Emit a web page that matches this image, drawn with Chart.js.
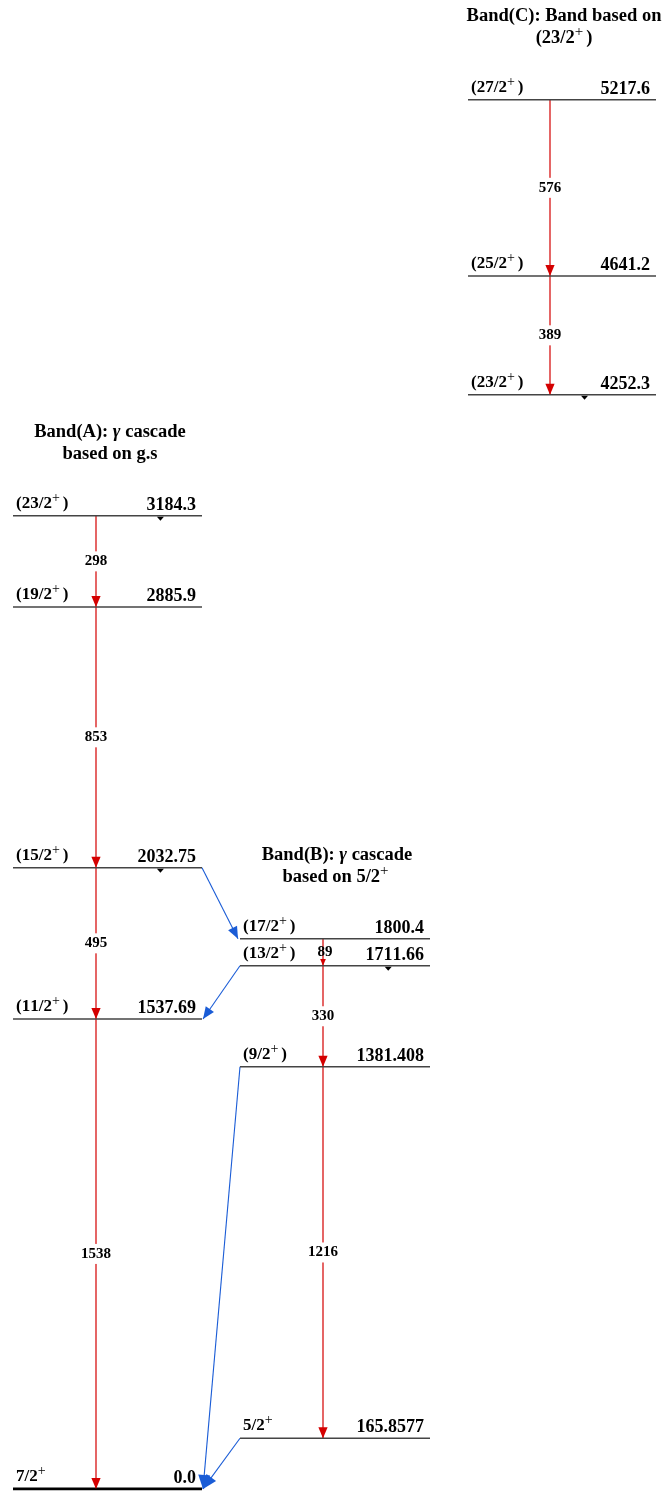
<!DOCTYPE html>
<html>
<head>
<meta charset="utf-8">
<script src="https://cdn.jsdelivr.net/npm/chart.js@4.4.1/dist/chart.umd.min.js"></script>
<style>
  html, body { margin: 0; padding: 0; background: #fff; }
  canvas { display: block; }
</style>
</head>
<body>
<canvas id="scheme" width="664" height="1495"></canvas>
<script>
// --- level data (keV) ---
const bandA_energy = [0, 1537.69, 2032.75, 2885.9, 3184.3];
const bandA_spin   = ['7/2+', '(11/2+)', '(15/2+)', '(19/2+)', '(23/2+)'];
const bandA_text   = ['0.0', '1537.69', '2032.75', '2885.9', '3184.3'];

const bandB_energy = [165.8577, 1381.408, 1711.66, 1800.4];
const bandB_spin   = ['5/2+', '(9/2+)', '(13/2+)', '(17/2+)'];
const bandB_text   = ['165.8577', '1381.408', '1711.66', '1800.4'];

const bandC_energy = [4252.3, 4641.2, 5217.6];
const bandC_spin   = ['(23/2+)', '(25/2+)', '(27/2+)'];
const bandC_text   = ['4252.3', '4641.2', '5217.6'];
const bandC_shift  = 672; // band C is drawn lower than its real energy

// --- in-band gamma cascades ---
const gammaA_from  = [3184.3, 2885.9, 2032.75, 1537.69];
const gammaA_to    = [2885.9, 2032.75, 1537.69, 0];
const gammaA_label = ['298', '853', '495', '1538'];

const gammaB_from  = [1800.4, 1711.66, 1381.408];
const gammaB_to    = [1711.66, 1381.408, 165.8577];
const gammaB_label = ['89', '330', '1216'];

const gammaC_from  = [5217.6, 4641.2];
const gammaC_to    = [4641.2, 4252.3];
const gammaC_label = ['576', '389'];

// --- links between band A and band B ---
const link_from     = [2032.75, 1711.66, 1381.408, 165.8577];
const link_to       = [1800.4, 1537.69, 0, 0];
const link_fromBand = ['A', 'B', 'B', 'B'];

// small marks under some levels
const mark_band   = ['A', 'A', 'B', 'C'];
const mark_energy = [3184.3, 2032.75, 1711.66, 4252.3];
const mark_pos    = [0.78, 0.78, 0.78, 0.62];

const titles = {
  A: ['Band(A): γ cascade', 'based on g.s'],
  B: ['Band(B): γ cascade', 'based on 5/2+'],
  C: ['Band(C): Band based on', '(23/2+)']
};

// layout of the three columns (x scale runs 0..664)
const bands = {
  A: { x0: 13,  x1: 202, xg: 96,  tx: 110, shift: 0, energy: bandA_energy, spin: bandA_spin, text: bandA_text },
  B: { x0: 240, x1: 430, xg: 323, tx: 337, shift: 0, energy: bandB_energy, spin: bandB_spin, text: bandB_text },
  C: { x0: 468, x1: 656, xg: 550, tx: 564, shift: bandC_shift, energy: bandC_energy, spin: bandC_spin, text: bandC_text }
};
const gammas = {
  A: { from: gammaA_from, to: gammaA_to, label: gammaA_label },
  B: { from: gammaB_from, to: gammaB_to, label: gammaB_label },
  C: { from: gammaC_from, to: gammaC_to, label: gammaC_label }
};

const RED = '#d40000';
const BLUE = '#1a5cd6';
const LEVEL = '#444';
const SERIF = '"Liberation Serif", "DejaVu Serif", serif';

const datasets = [];
Object.keys(bands).forEach(k => {
  const b = bands[k];
  b.energy.forEach(e => {
    datasets.push({
      data: [{ x: b.x0, y: e - b.shift }, { x: b.x1, y: e - b.shift }],
      showLine: true, pointRadius: 0,
      borderColor: e === 0 ? '#000' : LEVEL,
      borderWidth: e === 0 ? 2.6 : 1.5
    });
  });
  const g = gammas[k];
  g.from.forEach((f, i) => {
    datasets.push({
      data: [{ x: b.xg, y: f - b.shift }, { x: b.xg, y: g.to[i] - b.shift }],
      showLine: true, pointRadius: 0, borderColor: RED, borderWidth: 1.2
    });
  });
});
link_from.forEach((f, i) => {
  const src = bands[link_fromBand[i]];
  const dst = link_fromBand[i] === 'A' ? bands.B : bands.A;
  const xs = link_fromBand[i] === 'A' ? src.x1 : src.x0;
  const xe = link_fromBand[i] === 'A' ? dst.x0 - 2 : dst.x1 + 1;
  datasets.push({
    data: [{ x: xs, y: f }, { x: xe, y: link_to[i] }],
    showLine: true, pointRadius: 0, borderColor: BLUE, borderWidth: 1.1
  });
});

function drawRich(ctx, str, x, y, size, align) {
  const segs = [];
  for (const ch of str) {
    if (ch === '+') segs.push({ t: '+', font: `${Math.round(size * 0.8)}px ${SERIF}`, dy: -size * 0.36, gap: 3 });
    else if (ch === 'γ') segs.push({ t: 'γ', font: `italic bold ${size}px ${SERIF}`, dy: 0, gap: 0 });
    else segs.push({ t: ch, font: `bold ${size}px ${SERIF}`, dy: 0, gap: 0 });
  }
  let w = 0;
  segs.forEach(s => { ctx.font = s.font; s.w = ctx.measureText(s.t).width + s.gap; w += s.w; });
  let cx = align === 'center' ? x - w / 2 : align === 'right' ? x - w : x;
  ctx.textAlign = 'left';
  ctx.textBaseline = 'alphabetic';
  segs.forEach(s => {
    ctx.font = s.font;
    ctx.fillText(s.t, cx, y + s.dy);
    cx += s.w;
  });
}

function arrowHead(ctx, x0, y0, x1, y1, len, half, color) {
  const a = Math.atan2(y1 - y0, x1 - x0);
  ctx.save();
  ctx.fillStyle = color;
  ctx.beginPath();
  ctx.moveTo(x1, y1);
  ctx.lineTo(x1 - len * Math.cos(a) + half * Math.sin(a), y1 - len * Math.sin(a) - half * Math.cos(a));
  ctx.lineTo(x1 - len * Math.cos(a) - half * Math.sin(a), y1 - len * Math.sin(a) + half * Math.cos(a));
  ctx.closePath();
  ctx.fill();
  ctx.restore();
}

const schemePlugin = {
  id: 'scheme',
  afterDatasetsDraw(chart) {
    const { ctx, scales: { x, y } } = chart;
    const px = v => x.getPixelForValue(v);
    const py = v => y.getPixelForValue(v);
    ctx.save();
    ctx.fillStyle = '#000';

    Object.keys(bands).forEach(k => {
      const b = bands[k];
      // level labels
      b.energy.forEach((e, i) => {
        const yy = py(e - b.shift);
        ctx.fillStyle = '#000';
        drawRich(ctx, b.spin[i], px(b.x0) + 3, yy - 8, 17, 'left');
        drawRich(ctx, b.text[i], px(b.x1) - 6, yy - 6, 18, 'right');
      });
      // gamma arrows + energies
      const g = gammas[k];
      g.from.forEach((f, i) => {
        const xx = px(b.xg);
        const y0 = py(f - b.shift), y1 = py(g.to[i] - b.shift);
        const len = Math.min(11, (y1 - y0) / 4);
        arrowHead(ctx, xx, y0, xx, y1, len, len * 0.42, RED);
        ctx.font = `bold 15px ${SERIF}`;
        const w = ctx.measureText(g.label[i]).width;
        const ym = (y0 + y1) / 2;
        if (g.label[i] !== '89') {
          ctx.fillStyle = '#fff';
          ctx.fillRect(xx - w / 2 - 2, ym - 10, w + 4, 20);
        }
        ctx.fillStyle = '#000';
        ctx.textAlign = 'center';
        ctx.textBaseline = 'middle';
        ctx.fillText(g.label[i], g.label[i] === '89' ? xx + 2 : xx, ym);
      });
      // band titles
      const top = py(b.energy[b.energy.length - 1] - b.shift);
      ctx.fillStyle = '#000';
      drawRich(ctx, titles[k][0], b.tx, top - 79, 18.5, 'center');
      drawRich(ctx, titles[k][1], b.tx, top - 57, 18.5, 'center');
    });

    // blue link arrowheads
    chart.data.datasets.forEach(ds => {
      if (ds.borderColor !== BLUE) return;
      const p0 = ds.data[0], p1 = ds.data[1];
      const big = p1.y === 0;
      arrowHead(ctx, px(p0.x), py(p0.y), px(p1.x), py(p1.y), big ? 14 : 12, big ? 6 : 5, BLUE);
    });

    // small marks under levels
    mark_energy.forEach((e, i) => {
      const b = bands[mark_band[i]];
      const xx = px(b.x0 + (b.x1 - b.x0) * mark_pos[i]);
      const yy = py(e - b.shift);
      ctx.fillStyle = '#000';
      ctx.beginPath();
      ctx.moveTo(xx - 3.5, yy + 1);
      ctx.lineTo(xx + 3.5, yy + 1);
      ctx.lineTo(xx, yy + 5);
      ctx.closePath();
      ctx.fill();
    });
    ctx.restore();
  }
};

new Chart(document.getElementById('scheme'), {
  type: 'scatter',
  data: { datasets },
  options: {
    responsive: false,
    animation: false,
    events: [],
    layout: { padding: 0 },
    plugins: { legend: { display: false }, tooltip: { enabled: false } },
    scales: {
      x: { type: 'linear', display: false, min: 0, max: 664 },
      y: { type: 'linear', display: false, min: -20, max: 4872 }
    }
  },
  plugins: [schemePlugin]
});
</script>
</body>
</html>
